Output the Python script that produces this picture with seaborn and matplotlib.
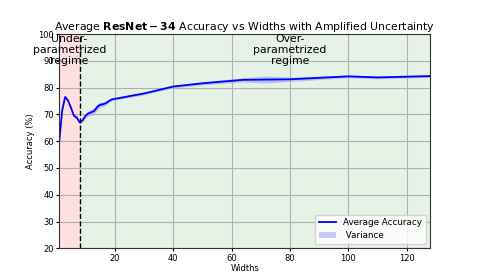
import matplotlib
matplotlib.use('Agg')
import matplotlib.pyplot as plt
import seaborn as sns
import numpy as np
import pandas as pd

# 폭(width)별 평균 정확도와 표준편차
widths = [1, 2, 3, 4, 5, 6, 7, 8, 9, 10, 11, 12, 13, 14, 15, 16, 17, 18, 19, 20,
          30, 40, 50, 64, 72, 80, 100, 110, 128]
acc_mean = [60.0, 71.5, 76.5, 75.2, 72.5, 69.5, 68.8, 67.0, 67.8, 69.5, 70.4, 70.8, 71.3,
            72.8, 73.6, 73.8, 74.2, 75.0, 75.6, 75.8, 77.8, 80.4, 81.6, 82.9, 83.0, 83.1,
            84.2, 83.8, 84.3]
acc_std = [0.5, 0.6, 0.6, 0.6, 0.6, 0.6, 0.6, 0.6, 0.7, 0.8, 1.0, 1.2, 1.2, 1.1, 1.0, 0.9,
           0.8, 0.6, 0.5, 0.5, 0.5, 0.5, 0.6, 0.8, 1.3, 0.8, 0.5, 0.5, 0.5]

df = pd.DataFrame({'width': widths, 'acc': acc_mean, 'std': acc_std})
critical_width = 8

fig, ax = plt.subplots(figsize=(4.78, 2.79), dpi=100)
fig.subplots_adjust(left=0.124, right=0.9, top=0.878, bottom=0.11)

# 구간 배경
ax.axvspan(1, critical_width, color='red', alpha=0.12, lw=0)
ax.axvspan(critical_width, 128, color='green', alpha=0.1, lw=0)

sns.lineplot(data=df, x='width', y='acc', color='blue', lw=1.3, ax=ax, label='Average Accuracy')
ax.fill_between(df['width'], df['acc'] - df['std'], df['acc'] + df['std'],
                color='blue', alpha=0.2, lw=0, label=' Variance')

ax.axvline(critical_width, color='black', ls='--', lw=1)

ax.text(4.5, 94, 'Under-\nparametrized\nregime', ha='center', va='center', fontsize=7.8,
        linespacing=1.15)
ax.text(80, 94, 'Over-\nparametrized\nregime', ha='center', va='center', fontsize=7.8,
        linespacing=1.15)

ax.set_xlim(1, 128)
ax.set_ylim(20, 100)
ax.grid(True)
ax.set_title(r'Average $\bf{ResNet-34}$ Accuracy vs Widths with Amplified Uncertainty',
             fontsize=7.8, pad=2)
ax.set_xlabel('Widths', fontsize=6, labelpad=1)
ax.set_ylabel('Accuracy (%)', fontsize=6, labelpad=2)
ax.tick_params(labelsize=6, length=2.5, pad=1.5)
for s in ax.spines.values():
    s.set_color('#333333')

ax.legend(loc='lower right', fontsize=6.3)

plt.savefig('out.png', dpi=100)
